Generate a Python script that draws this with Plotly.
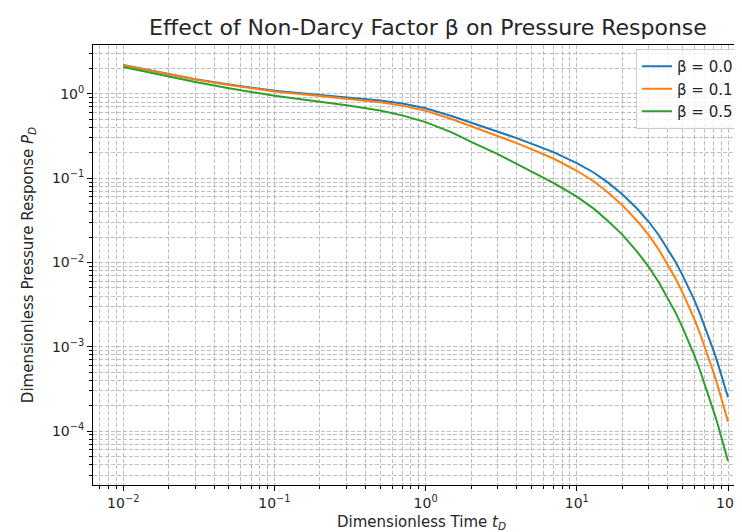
import plotly.graph_objects as go

# ---- data ----
t_D = [0.01, 0.02, 0.03, 0.05, 0.1, 0.2, 0.3, 0.5, 0.7, 1, 1.5, 2, 3, 4, 5, 7, 10, 13,
       16, 20, 25, 30, 35, 40, 45, 50, 55, 60, 65, 70, 75, 80, 85, 90, 95, 100]

p_beta_00 = [2.198, 1.706, 1.496, 1.297, 1.089, 0.973, 0.912, 0.836, 0.767, 0.676,
             0.543, 0.457, 0.359, 0.299, 0.257, 0.204, 0.151, 0.116, 0.0891, 0.0646,
             0.0437, 0.0302, 0.0209, 0.01445, 0.01012, 0.00708, 0.00501, 0.00355,
             0.00251, 0.00178, 0.001274, 0.000912, 0.000661, 0.000479, 0.000347, 0.000252]
p_beta_01 = [2.183, 1.690, 1.479, 1.278, 1.066, 0.944, 0.879, 0.797, 0.726, 0.632,
             0.5005, 0.416, 0.320, 0.261, 0.2214, 0.1711, 0.1225, 0.0913, 0.0682, 0.0479,
             0.0313, 0.02095, 0.01407, 0.00948, 0.00646, 0.00441, 0.003054, 0.002115,
             0.001466, 0.001017, 0.000714, 0.000502, 0.000357, 0.000254, 0.000181, 0.0001294]
p_beta_05 = [2.089, 1.592, 1.380, 1.169, 0.951, 0.809, 0.733, 0.634, 0.556, 0.462,
             0.347, 0.269, 0.193, 0.148, 0.120, 0.0881, 0.0603, 0.0432, 0.0313, 0.0214,
             0.01349, 0.00881, 0.00575, 0.0038, 0.00254, 0.0017, 0.001148, 0.000785,
             0.000537, 0.000367, 0.000254, 0.000176, 0.0001245, 0.0000881, 0.0000624, 0.0000442]

series_names = ["β = 0.0", "β = 0.1", "β = 0.5"]
series_colors = ["#1f77b4", "#ff7f0e", "#2ca02c"]

x_tick_vals = [0.01, 0.1, 1, 10, 100]
x_tick_text = ["10<sup>−2</sup>", "10<sup>−1</sup>", "10<sup>0</sup>", "10<sup>1</sup>", "10<sup>2</sup>"]
y_tick_vals = [1e-4, 1e-3, 1e-2, 1e-1, 1]
y_tick_text = ["10<sup>−4</sup>", "10<sup>−3</sup>", "10<sup>−2</sup>", "10<sup>−1</sup>", "10<sup>0</sup>"]


def minor_ticks(lo, hi):
    out = []
    for e in range(lo, hi):
        for m in range(2, 10):
            out.append(m * 10.0 ** e)
    return out


FONT = "DejaVu Sans"
TXT = "#262626"
GRID = "rgba(170,170,170,0.75)"
GDASH = "4px,2px"

fig = go.Figure()
for y, name, col in zip([p_beta_00, p_beta_01, p_beta_05], series_names, series_colors):
    fig.add_trace(go.Scatter(x=t_D, y=y, mode="lines", name=name,
                             line=dict(color=col, width=2)))

W, H = 742, 532
L, T, B = 85, 37, 55
plot_w = W - L
plot_h = H - T - B

fig.update_layout(
    width=W, height=H,
    margin=dict(l=L, r=0, t=T, b=B),
    paper_bgcolor="white", plot_bgcolor="white",
    font=dict(family=FONT, size=14, color=TXT),
    title=dict(text="Effect of Non-Darcy Factor β on Pressure Response",
               font=dict(family=FONT, size=22, color=TXT),
               x=(420 - L) / plot_w, xref="paper", xanchor="center",
               y=1 - 19 / H, yref="container", yanchor="middle"),
    showlegend=True,
    legend=dict(x=(628 - L) / plot_w, xanchor="left", y=1 - (41 - T) / plot_h, yanchor="top",
                bgcolor="rgba(255,255,255,0.8)", bordercolor="#cccccc", borderwidth=1,
                font=dict(family=FONT, size=15, color=TXT),
                itemwidth=30, tracegroupgap=0),
)

fig.update_xaxes(
    type="log", range=[-2.2, 2 + (W - 720) / 151.25],
    tickmode="array", tickvals=x_tick_vals, ticktext=x_tick_text,
    ticks="outside", ticklen=5, tickwidth=1, tickcolor="black",
    showline=True, linecolor="black", linewidth=1, mirror=True,
    showgrid=True, gridcolor=GRID, griddash=GDASH, gridwidth=0.8,
    zeroline=False,
    tickfont=dict(family=FONT, size=14, color=TXT),
    minor=dict(tickmode="array", tickvals=minor_ticks(-3, 3), ticks="outside", ticklen=3,
               tickcolor="black", showgrid=True, gridcolor=GRID, griddash=GDASH, gridwidth=0.8),
    title=dict(text="Dimensionless Time <i>t</i><sub><i>D</i></sub>",
               font=dict(family=FONT, size=15, color=TXT), standoff=6),
)
fig.update_yaxes(
    type="log", range=[-4.64, 0.58],
    tickmode="array", tickvals=y_tick_vals, ticktext=y_tick_text,
    ticks="outside", ticklen=5, tickwidth=1, tickcolor="black",
    showline=True, linecolor="black", linewidth=1, mirror=False,
    showgrid=True, gridcolor=GRID, griddash=GDASH, gridwidth=0.8,
    zeroline=False,
    tickfont=dict(family=FONT, size=14, color=TXT),
    minor=dict(tickmode="array", tickvals=minor_ticks(-6, 2), ticks="outside", ticklen=3,
               tickcolor="black", showgrid=True, gridcolor=GRID, griddash=GDASH, gridwidth=0.8),
    title=dict(text="Dimensionless Pressure Response <i>P</i><sub><i>D</i></sub>",
               font=dict(family=FONT, size=15, color=TXT), standoff=14),
)

fig.write_html("out.html")
